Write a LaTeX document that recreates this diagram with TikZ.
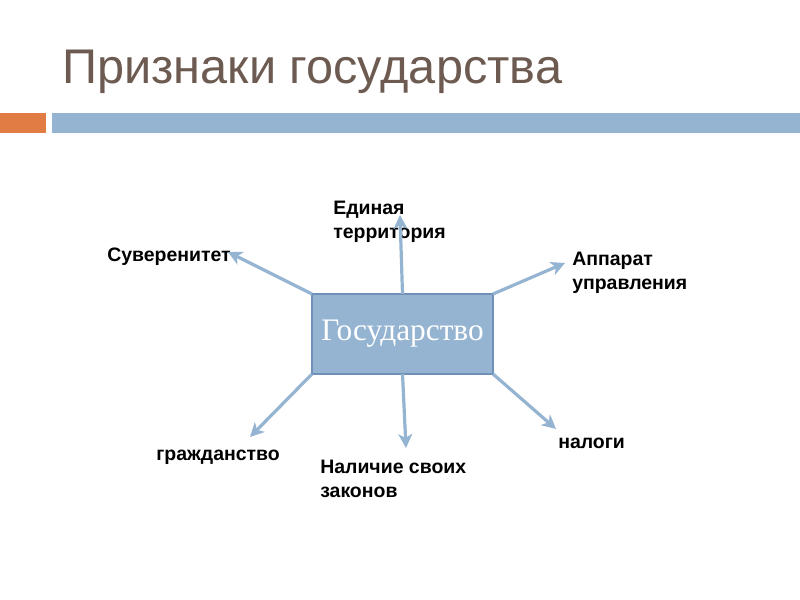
\documentclass[tikz,border=0pt]{standalone}
\usepackage{fontspec}
\setmainfont{Liberation Sans}
\newfontfamily\boxserif{Liberation Serif}
\usetikzlibrary{arrows.meta}
\definecolor{stbrown}{HTML}{6D5B51}
\definecolor{storange}{HTML}{E07C44}
\definecolor{stblue}{HTML}{95B4D2}
\definecolor{stedge}{HTML}{6F90B8}
\tikzset{
  ttl/.style={font=\fontsize{36.5}{40}\selectfont, color=stbrown, inner sep=0pt, anchor=base west},
  core/.style={draw=stedge, fill=stblue, line width=1.1pt, outer sep=0pt, inner sep=0pt,
    minimum width=135.75pt, minimum height=60pt, font=\boxserif\fontsize{23.5}{26}\selectfont, text=white},
  lbl/.style={font=\bfseries\fontsize{14.6}{18}\selectfont, inner sep=0pt, align=left},
  arr/.style={-{Stealth[length=10.5pt, width=10.5pt, inset=3pt]}, line width=2.4pt, color=stblue},
}

\begin{document}
\begin{tikzpicture}[x=0.75pt, y=-0.75pt]
    \useasboundingbox (0,0) rectangle (800,600);
    \node[ttl] (title) at (62,83) {Признаки государства};
    \fill[storange] (0,113) rectangle (46,133);
    \fill[stblue] (52,113) rectangle (800,133);
    \node[core] (state) at (402.5,334) {Государство};
    % labels round the box
    \node[lbl, anchor=base west] (sov) at (107,261.5) {Суверенитет};
    \node[lbl, anchor=north west] (terr) at (333,200.5) {Единая\\территория};
    \node[lbl, anchor=north west] (app) at (572,251.5) {Аппарат\\управления};
    \node[lbl, anchor=base west] (citz) at (156,460) {гражданство};
    \node[lbl, anchor=north west] (laws) at (320,459.5) {Наличие своих\\законов};
    \node[lbl, anchor=base west] (tax) at (558,448) {налоги};
    \foreach \nm/\x/\y/\from in {
      sovtip/228/252/north west,
      terrtip/400/215/north,
      apptip/565/263/north east,
      citztip/250/437/south west,
      lawstip/406/448/south,
      taxtip/556/429/south east}
    {
      \coordinate (\nm) at (\x,\y);
      \draw[arr] (state.\from) -- (\nm);
    }
\end{tikzpicture}
\end{document}
